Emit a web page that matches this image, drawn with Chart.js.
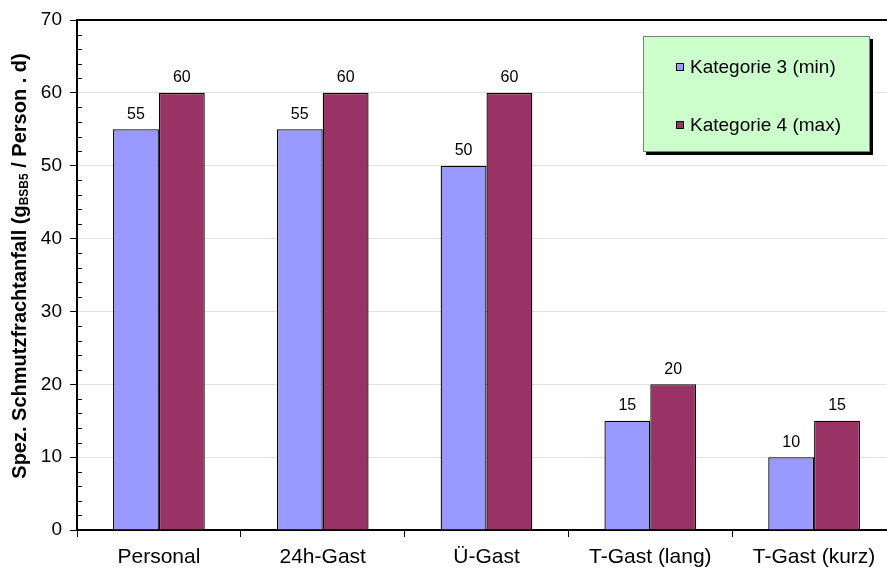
<!DOCTYPE html>
<html><head><meta charset="utf-8">
<script src="https://cdn.jsdelivr.net/npm/chart.js@4"></script>
<style>
html,body{margin:0;padding:0;background:#fff;overflow:hidden}
#wrap{position:relative;width:900px;height:572px}
</style></head><body><div id="wrap"><canvas id="c"></canvas></div>
<script>
// Categories and series values
const categories = ['Personal', '24h-Gast', 'Ü-Gast', 'T-Gast (lang)', 'T-Gast (kurz)'];
const seriesNames = ['Kategorie 3 (min)', 'Kategorie 4 (max)'];
const minValues = [55, 55, 50, 15, 10];
const maxValues = [60, 60, 60, 20, 15];
const yTickValues = [0, 10, 20, 30, 40, 50, 60, 70];
const yMinorStep = 2;

const FONT = 'Arial, "Liberation Sans", sans-serif';
const colors = ['#9999FF', '#993366'];

// Value labels above each bar
const valueLabels = {
  id: 'valueLabels',
  afterDatasetsDraw(chart) {
    const ctx = chart.ctx;
    ctx.save();
    ctx.font = '16px ' + FONT;
    ctx.fillStyle = '#000';
    ctx.textAlign = 'center';
    ctx.textBaseline = 'middle';
    chart.data.datasets.forEach((ds, i) => {
      chart.getDatasetMeta(i).data.forEach((bar, j) => {
        ctx.fillText(String(ds.data[j]), bar.x, bar.y - 15);
      });
    });
    ctx.restore();
  }
};

// Frame, minor ticks, rotated axis title, legend box
const decorations = {
  id: 'decorations',
  afterDraw(chart) {
    const ctx = chart.ctx;
    const a = chart.chartArea;
    const y = chart.scales.y;
    ctx.save();
    // top frame line
    ctx.strokeStyle = '#000';
    ctx.lineWidth = 2;
    ctx.beginPath();
    ctx.moveTo(a.left, a.top);
    ctx.lineTo(a.right, a.top);
    ctx.stroke();
    // minor ticks inside the value axis
    ctx.lineWidth = 1;
    for (let v = y.min; v <= y.max; v += yMinorStep) {
      if (v % 10 === 0) continue;
      const py = Math.round(y.getPixelForValue(v)) + 0.5;
      ctx.beginPath();
      ctx.moveTo(a.left, py);
      ctx.lineTo(a.left + 5, py);
      ctx.stroke();
    }
    // axis title with subscript
    const parts = [
      { t: 'Spez. Schmutzfrachtanfall (g', f: 'bold 20px ' + FONT, dy: 0 },
      { t: 'BSB5', f: 'bold 12px ' + FONT, dy: 5 },
      { t: ' / Person . d)', f: 'bold 20px ' + FONT, dy: 0 }
    ];
    let total = 0;
    parts.forEach(p => { ctx.font = p.f; p.w = ctx.measureText(p.t).width; total += p.w; });
    ctx.translate(20, 266);
    ctx.rotate(-Math.PI / 2);
    ctx.fillStyle = '#000';
    ctx.textBaseline = 'middle';
    ctx.textAlign = 'left';
    let x = -total / 2;
    parts.forEach(p => { ctx.font = p.f; ctx.fillText(p.t, x, p.dy); x += p.w; });
    ctx.setTransform(1, 0, 0, 1, 0, 0);
    // legend box with shadow
    const bx = 643, by = 36, bw = 227, bh = 116;
    ctx.fillStyle = '#000';
    ctx.fillRect(bx + 3, by + 3, bw, bh);
    ctx.fillStyle = '#CCFFCC';
    ctx.fillRect(bx, by, bw, bh);
    ctx.strokeStyle = '#808080';
    ctx.lineWidth = 1;
    ctx.strokeRect(bx + 0.5, by + 0.5, bw - 1, bh - 1);
    ctx.font = '19px ' + FONT;
    ctx.textBaseline = 'middle';
    const rows = [67, 125];
    chart.data.datasets.forEach((ds, i) => {
      ctx.fillStyle = ds.backgroundColor;
      ctx.fillRect(676, rows[i] - 4, 8, 8);
      ctx.strokeStyle = '#000';
      ctx.strokeRect(676.5, rows[i] - 3.5, 7, 7);
      ctx.fillStyle = '#000';
      ctx.fillText(ds.label, 690, rows[i] + 1);
    });
    ctx.restore();
  }
};

new Chart(document.getElementById('c'), {
  type: 'bar',
  data: {
    labels: categories,
    datasets: [
      { label: seriesNames[0], data: minValues, backgroundColor: colors[0], borderColor: '#000', borderWidth: 1.3 },
      { label: seriesNames[1], data: maxValues, backgroundColor: colors[1], borderColor: '#000', borderWidth: 1.3 }
    ]
  },
  options: {
    responsive: true,
    maintainAspectRatio: false,
    animation: false,
    layout: { padding: { top: 20, right: 4, left: 0, bottom: 0 } },
    datasets: { bar: { barPercentage: 1, categoryPercentage: 0.56 } },
    plugins: { legend: { display: false }, tooltip: { enabled: false } },
    scales: {
      x: {
        grid: { offset: true, drawOnChartArea: false, tickLength: 7, tickColor: '#000', lineWidth: 1 },
        border: { color: '#000', width: 2 },
        ticks: { color: '#000', font: { family: FONT, size: 21 }, padding: 8, maxRotation: 0 },
        afterFit(s) { s.height = 42; }
      },
      y: {
        min: 0, max: 70,
        afterBuildTicks(s) { s.ticks = yTickValues.map(v => ({ value: v })); },
        grid: { color: '#e3e3e3', tickColor: '#000', tickLength: 7, lineWidth: 1 },
        border: { color: '#000', width: 2 },
        ticks: { color: '#000', font: { family: FONT, size: 19 }, padding: 8 },
        afterFit(s) { s.width = 77; }
      }
    }
  },
  plugins: [valueLabels, decorations]
});
</script>
</body></html>
